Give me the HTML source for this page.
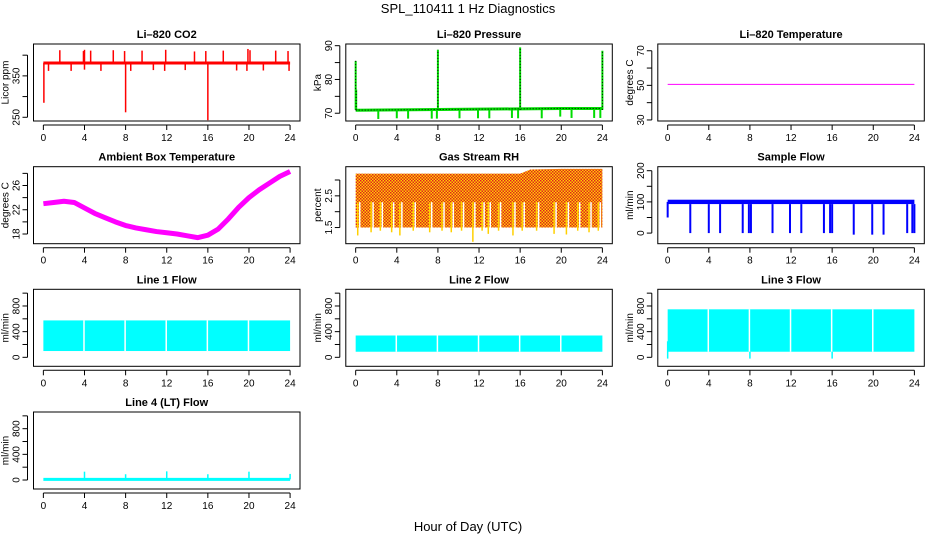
<!DOCTYPE html>
<html><head><meta charset="utf-8"><style>
html,body{margin:0;padding:0;background:#fff}
svg text{font-family:"Liberation Sans",sans-serif}
</style></head><body>
<svg id="fig" width="936" height="540" xmlns="http://www.w3.org/2000/svg">
<defs>
<pattern id="rhpat" width="3" height="3" patternUnits="userSpaceOnUse">
<rect width="3" height="3" fill="#ffd000"/><rect x="0" y="0" width="1.5" height="1.5" fill="#e02020"/><rect x="1.5" y="1.5" width="1.5" height="1.5" fill="#e02020"/>
</pattern>
</defs>
<text x="468" y="13" font-size="13" text-anchor="middle">SPL_110411  1 Hz Diagnostics</text>
<text x="468" y="531" font-size="13" text-anchor="middle">Hour of Day (UTC)</text>
</svg>
<script>
// ---- data ----
const xTicks=[0,4,8,12,16,20,24];
const co2Base=381;
const co2UpHours=[1.6,3.9,4.0,4.6,6.8,7.9,9.6,11.9,14.7,15.8,17.5,19.9,20.1,22.6,23.8];
const co2UpVals=[412,410,413,411,412,410,411,413,409,410,411,415,412,411,410];
const co2DownHours=[0.05,0.5,2.7,4.0,5.6,8.0,8.5,10.7,11.8,13.8,16.0,18.8,19.8,21.4,23.9];
const co2DownVals=[285,362,362,365,362,262,362,364,362,364,243,363,362,363,362];
const presHours=[0,4,8,12,16,20,24];
const presBase=[70.9,71.0,71.1,71.2,71.3,71.4,71.4];
const presUpHours=[0.0,0.05,8.0,16.0,24.0];
const presUpVals=[85.5,77.0,88.8,89.5,88.5];
const presDownHours=[2.2,4.0,5.1,7.4,7.9,10.1,11.9,13.0,15.2,15.8,18.1,19.9,21.0,23.2,23.8];
const presDownVals=[68.3,68.5,68.4,68.4,68.4,68.5,68.5,68.5,68.6,68.5,68.5,69.0,68.6,68.6,68.6];
const liTemp=50.6;
const ambHours=[0,1,2,3,4,5,6,7,8,9,10,11,12,13,14,15,16,17,18,19,20,21,22,23,24];
const ambVals=[23.0,23.2,23.4,23.2,22.3,21.4,20.7,20.0,19.4,19.0,18.7,18.4,18.2,18.0,17.7,17.4,17.8,18.8,20.5,22.4,24.0,25.3,26.4,27.5,28.3];
const rhHours=[0,4,8,12,16,17,20,24];
const rhTop=[3.2,3.2,3.2,3.2,3.2,3.33,3.35,3.35];
const rhBottom=[1.5,1.5,1.5,1.5,1.5,1.5,1.5,1.5];
const rhDropHours=[0.2,1.5,2.4,3.5,4.3,5.6,7.2,8.4,9.3,10.3,11.4,12.3,12.9,13.9,15.3,16.2,17.6,19.3,20.5,21.6,22.7,23.6];
const rhDropVals=[1.25,1.35,1.4,1.35,1.25,1.4,1.35,1.4,1.35,1.4,1.05,1.4,1.3,1.4,1.25,1.4,1.4,1.3,1.28,1.4,1.35,1.4];
const flowLow=93, flowHigh=107;
const flowDropHours=[2.2,4.0,5.1,7.3,7.9,8.1,10.2,11.9,13.0,15.2,15.8,16.0,18.1,19.9,21.0,23.3,23.8,24.0];
const flowDropVals=[0,0,0,0,0,0,0,0,0,0,0,0,-5,-5,-5,0,0,0];
const l1Low=98, l1High=575, l1Gaps=[4,8,12,16,20];
const l2Low=87, l2High=340, l2Gaps=[4,8,12,16,20];
const l3Low=87, l3High=748, l3Gaps=[4,8,12,16,20];
const l4Base=10;
const l4SpikeHours=[4,8,12,16,20,24];
const l4SpikeVals=[130,90,135,90,130,95];

// ---- layout ----
const NS="http://www.w3.org/2000/svg";
const svg=document.getElementById('fig');
const colL=[33.5,345.8,657.8], boxW=266.5;
const rowT=[44,166.7,289.3,412], boxH=77;
function mk(tag,attrs,parent){const e=document.createElementNS(NS,tag);for(const k in attrs)e.setAttribute(k,attrs[k]);(parent||svg).appendChild(e);return e;}
function panel(name,c,r,title,ylab,ymin,ymax,ticks,labels){
  const g=mk('g',{});
  
  
  const L=colL[c],T=rowT[r],B=T+boxH;
  const x=h=>L+9.87+h*10.28;
  const y=v=>B-(v-ymin)/(ymax-ymin)*boxH;
  const t=mk('text',{x:L+boxW/2,y:T-6,'font-size':11,'font-weight':'bold','text-anchor':'middle'},g);t.textContent=title;
  
  
  const yl=mk('text',{x:0,y:0,'font-size':10,'text-anchor':'middle',transform:`translate(${L-25},${T+boxH/2}) rotate(-90)`},g);yl.textContent=ylab;
  
  
  const ax=mk('g',{},g);
  
  
  mk('line',{x1:x(0),x2:x(24),y1:B+4,y2:B+4,stroke:'#000'},ax);
  xTicks.forEach(h=>{mk('line',{x1:x(h),x2:x(h),y1:B+4,y2:B+9,stroke:'#000'},ax);
    const tt=mk('text',{x:x(h),y:B+20,'font-size':10,'text-anchor':'middle'},ax);tt.textContent=h;});
  const ay=mk('g',{},g);
  
  
  mk('line',{x1:L-6,x2:L-6,y1:y(ticks[0]),y2:y(ticks[ticks.length-1]),stroke:'#000'},ay);
  ticks.forEach(v=>{mk('line',{x1:L-11,x2:L-6,y1:y(v),y2:y(v),stroke:'#000'},ay);});
  labels.forEach(v=>{const tt=mk('text',{x:0,y:0,'font-size':10,'text-anchor':'middle',transform:`translate(${L-14},${y(v)}) rotate(-90)`},ay);tt.textContent=v;});
  const plot=mk('g',{},g);
  
  
  const box=mk('rect',{x:L,y:T,width:boxW,height:boxH,fill:'none',stroke:'#000'},g);
  
  
  return {x,y,g:plot};
}
function seg(p,x1,y1,x2,y2,col,w,extra){const e=mk('line',Object.assign({x1,y1,x2,y2,stroke:col,'stroke-width':w},extra||{}),p.g);return e;}

// CO2
let p=panel('co2',0,0,'Li\u2013820 CO2','Licor ppm',241,427,[250,300,350,400],[250,350]);
seg(p,p.x(0),p.y(co2Base),p.x(24),p.y(co2Base),'#ff0000',3);
co2UpHours.forEach((h,i)=>seg(p,p.x(h),p.y(co2Base),p.x(h),p.y(co2UpVals[i]),'#ff0000',1.5));
co2DownHours.forEach((h,i)=>seg(p,p.x(h),p.y(co2Base),p.x(h),p.y(co2DownVals[i]),'#ff0000',1.5));

// Pressure
p=panel('pressure',1,0,'Li\u2013820 Pressure','kPa',67.7,90.5,[70,75,80,85,90],[70,80,90]);
let pts=presHours.map((h,i)=>p.x(h)+','+p.y(presBase[i])).join(' ');
let pl=mk('polyline',{points:pts,fill:'none',stroke:'#00dd00','stroke-width':3},p.g);


pl=mk('polyline',{points:pts,fill:'none',stroke:'#000','stroke-width':1,'stroke-dasharray':'1 2'},p.g);


presUpHours.forEach((h,i)=>{seg(p,p.x(h),p.y(71),p.x(h),p.y(presUpVals[i]),'#00dd00',2);seg(p,p.x(h),p.y(71),p.x(h),p.y(presUpVals[i]),'#000',1,{'stroke-dasharray':'1 2'});});
presDownHours.forEach((h,i)=>seg(p,p.x(h),p.y(71),p.x(h),p.y(presDownVals[i]),'#00dd00',2));

// Li temp
p=panel('li-temp',2,0,'Li\u2013820 Temperature','degrees C',29.4,73.9,[30,40,50,60,70],[30,50,70]);
seg(p,p.x(0),p.y(liTemp),p.x(24),p.y(liTemp),'#ff00ff',1);

// Ambient
p=panel('ambient-temp',0,1,'Ambient Box Temperature','degrees C',16.4,29.1,[18,20,22,24,26,28],[18,22,26]);
pl=mk('polyline',{points:ambHours.map((h,i)=>p.x(h)+','+p.y(ambVals[i])).join(' '),fill:'none',stroke:'#ff00ff','stroke-width':5,'stroke-linejoin':'round'},p.g);



// RH
p=panel('rh',1,1,'Gas Stream RH','percent',0.99,3.42,[1.5,2.0,2.5,3.0],[1.5,2.5]);
let poly=rhHours.map((h,i)=>p.x(h)+','+p.y(rhTop[i])).concat(rhHours.slice().reverse().map((h,j)=>{const i=rhHours.length-1-j;return p.x(h)+','+p.y(rhBottom[i]);}));
pl=mk('polygon',{points:poly.join(' '),fill:'url(#rhpat)'},p.g);


rhDropHours.forEach((h,i)=>{seg(p,p.x(h)+2,p.y(2.3),p.x(h)+2,p.y(1.5),'#ffffff',1.5);seg(p,p.x(h),p.y(2.3),p.x(h),p.y(rhDropVals[i]),'#ffd000',1.5);});

// Sample flow
p=panel('sample-flow',2,1,'Sample Flow','ml/min',-34,212.8,[0,50,100,150,200],[0,100,200]);
let r=mk('rect',{x:p.x(0),y:p.y(flowHigh),width:p.x(24)-p.x(0),height:p.y(flowLow)-p.y(flowHigh),fill:'#0000ff'},p.g);


seg(p,p.x(0),p.y(50),p.x(0),p.y(100),'#0000ff',2);
flowDropHours.forEach((h,i)=>seg(p,p.x(h),p.y(flowLow),p.x(h),p.y(flowDropVals[i]),'#0000ff',2));

// line flows
function linePanel(name,c,r,title,low,high,gaps){
  const q=panel(name,c,r,title,'ml/min',-140,1060,[0,200,400,600,800,1000],[0,400,800]);
  const b=mk('rect',{x:q.x(0),y:q.y(high),width:q.x(24)-q.x(0),height:q.y(low)-q.y(high),fill:'#00ffff'},q.g);
  
  
  gaps.forEach(h=>seg(q,q.x(h)-0.5,q.y(high),q.x(h)-0.5,q.y(low),'#ffffff',1.5));
  return q;
}
linePanel('line1-flow',0,2,'Line 1 Flow',l1Low,l1High,l1Gaps);
linePanel('line2-flow',1,2,'Line 2 Flow',l2Low,l2High,l2Gaps);
p=linePanel('line3-flow',2,2,'Line 3 Flow',l3Low,l3High,l3Gaps);
seg(p,p.x(0),p.y(250),p.x(0),p.y(-20),'#00ffff',1.5);
seg(p,p.x(8),p.y(87),p.x(8),p.y(-20),'#00ffff',1.5);
seg(p,p.x(16),p.y(87),p.x(16),p.y(-20),'#00ffff',1.5);

// Line 4
p=panel('line4-flow',0,3,'Line 4 (LT) Flow','ml/min',-140,1060,[0,200,400,600,800,1000],[0,400,800]);
seg(p,p.x(0),p.y(l4Base),p.x(24),p.y(l4Base),'#00ffff',3);
l4SpikeHours.forEach((h,i)=>seg(p,p.x(h),p.y(l4Base),p.x(h),p.y(l4SpikeVals[i]),'#00ffff',1.5));
</script>
</body></html>
